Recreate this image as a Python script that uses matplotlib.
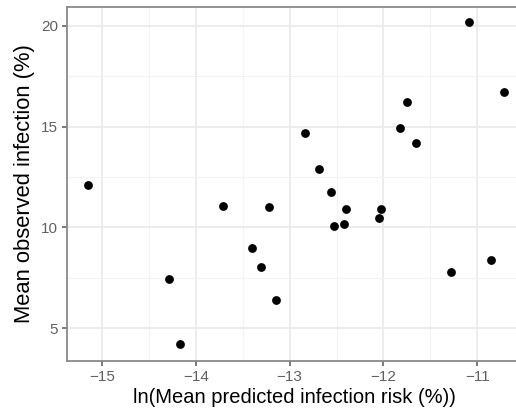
import matplotlib
matplotlib.use('Agg')
import matplotlib.pyplot as plt
from matplotlib.ticker import MultipleLocator

plt.rcParams['font.family'] = ['Liberation Sans', 'DejaVu Sans']

# ln of mean predicted risk vs mean observed infection, one point per group
log_pred = [-15.15, -14.28, -14.17, -13.71, -13.40, -13.30, -13.22, -13.15,
            -12.84, -12.69, -12.56, -12.53, -12.42, -12.40, -12.05, -12.03,
            -11.82, -11.75, -11.65, -11.28, -11.09, -10.85, -10.72]
observed = [12.1, 7.46, 4.21, 11.08, 8.98, 8.05, 11.03, 6.38,
            14.66, 12.9, 11.78, 10.07, 10.18, 10.94, 10.47, 10.94,
            14.93, 16.22, 14.18, 7.77, 20.17, 8.41, 16.74]

W, H = 516, 417
fig = plt.figure(figsize=(W / 100, H / 100), dpi=100)
left, right, top, bottom = 67, 522, 7, 361
ax = fig.add_axes([left / W, 1 - bottom / H, (right - left) / W, (bottom - top) / H])

ax.scatter(log_pred, observed, s=40, color='black', zorder=3, linewidths=0)

ax.set_xlim(-15.371, -10.72 + (522 - 503.7) / 93.5)
ax.set_ylim(3.38, 20.93)
ax.xaxis.set_major_locator(MultipleLocator(1))
ax.xaxis.set_minor_locator(MultipleLocator(0.5))
ax.yaxis.set_major_locator(MultipleLocator(5))
ax.yaxis.set_minor_locator(MultipleLocator(2.5))

ax.grid(True, which='major', color='#ebebeb', linewidth=1.3, zorder=0)
ax.grid(True, which='minor', color='#f3f3f3', linewidth=0.8, zorder=0)
ax.set_axisbelow(True)

for side in ['left', 'bottom', 'top', 'right']:
    ax.spines[side].set_color('#8a8a8a')
    ax.spines[side].set_linewidth(1.3)

ax.tick_params(which='major', length=3.5, width=1.1, color='#555555',
               labelcolor='#606060', labelsize=11, pad=3)
ax.tick_params(which='minor', length=0)

fmt = lambda v, p: ('\u2212' if v < 0 else '') + '%d' % abs(round(v))
ax.xaxis.set_major_formatter(plt.FuncFormatter(fmt))
ax.yaxis.set_major_formatter(plt.FuncFormatter(fmt))

ax.set_xlabel('ln(Mean predicted infection risk (%))', fontsize=14.5, labelpad=3)
ax.set_ylabel('Mean observed infection (%)', fontsize=15.8, labelpad=4)

fig.savefig('out.png', dpi=100)
